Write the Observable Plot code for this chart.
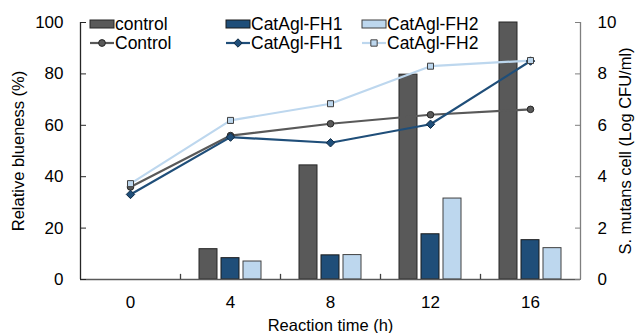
<!DOCTYPE html>
<html>
<head>
<meta charset="utf-8">
<script src="https://cdn.jsdelivr.net/npm/d3@7"></script>
<script src="https://cdn.jsdelivr.net/npm/@observablehq/plot@0.6"></script>
<style>
  html, body { margin: 0; padding: 0; background: #fff; }
  #chart svg { display: block; font-family: "Liberation Sans", Arial, sans-serif; }
</style>
</head>
<body>
<div id="chart"></div>
<script>
// Categories
const times = ["0", "4", "8", "12", "16"];
// Bars: relative blueness (%)
const blueControl = [0, 11.8, 44.4, 79.7, 100];
const blueFH1 = [0, 8.3, 9.4, 17.6, 15.3];
const blueFH2 = [0, 7.0, 9.5, 31.5, 12.2];
// Lines: S. mutans cell (Log CFU/ml)
const cellControl = [3.6, 5.6, 6.06, 6.41, 6.62];
const cellFH1 = [3.31, 5.54, 5.32, 6.04, 8.5];
const cellFH2 = [3.73, 6.19, 6.84, 8.3, 8.52];
// Tick labels
const leftTicks = [0, 20, 40, 60, 80, 100];
const rightTickLabels = [0, 2, 4, 6, 8, 10];

const cDark = "#595959", cBlue = "#1f4e79", cLight = "#bdd7ee";

const rows = (vals) => times.map((t, i) => ({time: t, v: vals[i]}));
const barRows = (vals) => rows(vals).filter(d => d.v > 0);
// right axis (0–10) shares the left scale (0–100)
const toLeft = (d) => d.v * 10;

const fs = 17;
const tfs = 16.5;
const lfs = 17.5;

const chart = Plot.plot({
  width: 640,
  height: 333,
  marginLeft: 80,
  marginRight: 60,
  marginTop: 22,
  marginBottom: 54,
  style: {fontSize: fs + "px", fontFamily: '"Liberation Sans", Arial, sans-serif', color: "#000", overflow: "visible"},
  x: {type: "band", domain: times, padding: 0},
  y: {domain: [0, 100]},
  marks: [
    // bars
    Plot.barY(barRows(blueControl), {x: "time", y: "v", fill: cDark, stroke: "#262626", strokeWidth: 1, insetLeft: 19, insetRight: 63}),
    Plot.barY(barRows(blueFH1), {x: "time", y: "v", fill: cBlue, stroke: "#1a1a1a", strokeWidth: 1, insetLeft: 41, insetRight: 41}),
    Plot.barY(barRows(blueFH2), {x: "time", y: "v", fill: cLight, stroke: "#404040", strokeWidth: 1, insetLeft: 63, insetRight: 19}),
    // axes lines
    Plot.ruleY([0], {stroke: "#595959", strokeWidth: 1.3}),
    Plot.ruleX([times[0]], {y1: 0, y2: 100, dx: -50, stroke: "#262626", strokeWidth: 1.3}),
    Plot.ruleX([times[times.length - 1]], {y1: 0, y2: 100, dx: 50, stroke: "#7f7f7f", strokeWidth: 1.3}),
    // x ticks at band boundaries
    Plot.ruleX(times.slice(1), {y1: 0, y2: 2, dx: -50, stroke: "#404040", strokeWidth: 1.3}),
    // lines
    Plot.line(rows(cellFH2), {x: "time", y: toLeft, stroke: cLight, strokeWidth: 2.2}),
    Plot.line(rows(cellControl), {x: "time", y: toLeft, stroke: cDark, strokeWidth: 2.2}),
    Plot.line(rows(cellFH1), {x: "time", y: toLeft, stroke: cBlue, strokeWidth: 2.2}),
    Plot.dot(rows(cellControl), {x: "time", y: toLeft, r: 3.3, fill: cDark, stroke: "#262626", strokeWidth: 1, symbol: "circle"}),
    Plot.dot(rows(cellFH1), {x: "time", y: toLeft, r: 3.8, fill: cBlue, stroke: "#0f2a44", strokeWidth: 1, symbol: "diamond2"}),
    Plot.dot(rows(cellFH2), {x: "time", y: toLeft, r: 3.4, fill: cLight, stroke: "#404040", strokeWidth: 1, symbol: "square"}),
    // axes
    Plot.axisY(leftTicks, {anchor: "left", tickSize: -6, tickPadding: 23, label: null, stroke: "#262626", fontSize: fs}),
    Plot.axisY(leftTicks, {anchor: "right", tickSize: -6, tickPadding: 23, label: null, stroke: "#7f7f7f", fontSize: fs,
      tickFormat: (d) => String(rightTickLabels[leftTicks.indexOf(d)])}),
    Plot.axisX(times, {anchor: "bottom", tickSize: 0, tickPadding: 16, label: null, fontSize: fs}),
    // axis titles
    Plot.text(["Reaction time (h)"], {frameAnchor: "bottom", dy: 46, textAnchor: "middle", lineAnchor: "middle", fontSize: tfs, fill: "#000"}),
    Plot.text(["Relative blueness (%)"], {frameAnchor: "left", dx: -62, rotate: -90, textAnchor: "middle", lineAnchor: "middle", fontSize: tfs, fill: "#000"}),
    Plot.text(["S. mutans cell (Log CFU/ml)"], {frameAnchor: "right", dx: 45, rotate: -90, textAnchor: "middle", lineAnchor: "middle", fontSize: tfs, fill: "#000"})
  ]
});

document.getElementById("chart").appendChild(chart);

// Legend inside the plot area (two rows)
const svg = d3.select(chart);
const lg = svg.append("g").attr("font-size", lfs).attr("text-anchor", "start")
  .attr("font-family", '"Liberation Sans", Arial, sans-serif');
const barItems = [
  {label: "control", fill: cDark, stroke: "#262626", x: 90},
  {label: "CatAgl-FH1", fill: cBlue, stroke: "#1a1a1a", x: 226},
  {label: "CatAgl-FH2", fill: cLight, stroke: "#404040", x: 362}
];
const lineItems = [
  {label: "Control", color: cDark, sym: d3.symbolCircle, size: 36, mfill: cDark, mstroke: "#262626", x: 90},
  {label: "CatAgl-FH1", color: cBlue, sym: d3.symbolDiamond2, size: 45, mfill: cBlue, mstroke: "#0f2a44", x: 226},
  {label: "CatAgl-FH2", color: cLight, sym: d3.symbolSquare, size: 40, mfill: cLight, mstroke: "#404040", x: 362}
];
const row1 = 24, row2 = 43, sw = 24;
barItems.forEach(it => {
  lg.append("rect").attr("x", it.x).attr("y", row1 - 4).attr("width", sw).attr("height", 8)
    .attr("fill", it.fill).attr("stroke", it.stroke).attr("stroke-width", 1);
  lg.append("text").attr("x", it.x + sw + 1).attr("y", row1).attr("dy", "0.35em").attr("text-anchor", "start").text(it.label);
});
lineItems.forEach(it => {
  lg.append("line").attr("x1", it.x).attr("x2", it.x + sw).attr("y1", row2).attr("y2", row2)
    .attr("stroke", it.color).attr("stroke-width", 2.2);
  lg.append("path").attr("d", d3.symbol(it.sym, it.size)()).attr("transform", `translate(${it.x + sw / 2},${row2})`)
    .attr("fill", it.mfill).attr("stroke", it.mstroke).attr("stroke-width", 1);
  lg.append("text").attr("x", it.x + sw + 1).attr("y", row2).attr("dy", "0.35em").attr("text-anchor", "start").text(it.label);
});
</script>
</body>
</html>
